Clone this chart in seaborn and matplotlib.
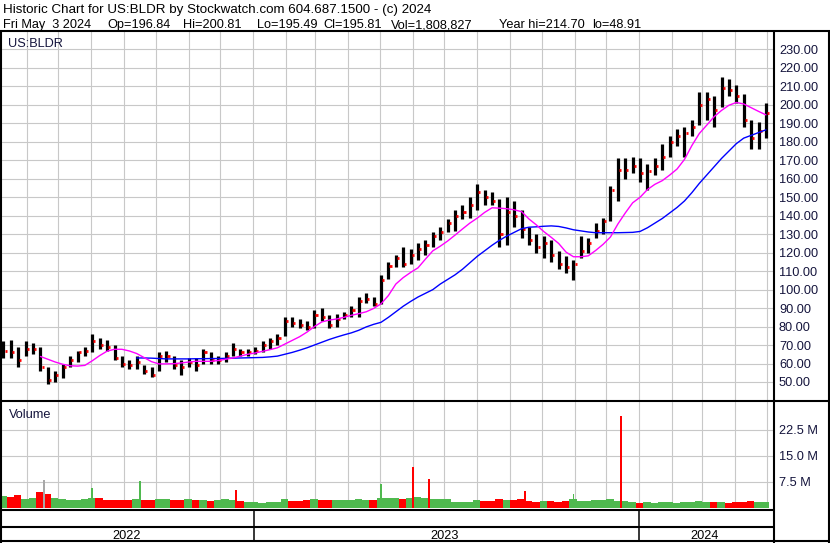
import pandas as pd
import matplotlib
matplotlib.use("Agg")
import matplotlib.pyplot as plt
import matplotlib.dates as mdates
from matplotlib.lines import Line2D
import seaborn as sns

sns.set_style("white")
plt.rcParams["font.family"] = ["Liberation Sans", "DejaVu Sans"]

# weekly bars, week ending Fridays 2022-05-13 .. 2024-05-03
week_end = pd.date_range("2022-05-13", periods=104, freq="7D")

high = [72, 73, 69, 72, 71, 69, 58, 56, 60, 64,
        67, 69, 76, 74, 73, 70, 64, 62, 64, 59,
        58, 66, 67, 64, 62, 63, 63, 68, 66, 64,
        66, 71, 68, 68, 69, 72, 74, 76, 85, 85,
        84, 83, 89, 90, 86, 87, 88, 91, 96, 98,
        96, 108, 115, 119, 123, 122, 125, 127, 131, 134,
        138, 143, 146, 150, 157, 154, 153, 149, 150, 148,
        143, 134, 130, 129, 127, 121, 118, 116, 129, 128,
        136, 139, 156, 171, 171, 172, 171, 168, 171, 179,
        183, 187, 188, 192, 207, 207, 205, 215, 214, 211,
        206, 192, 191, 200.81]

low = [63, 63, 58, 64, 65, 56, 49, 50, 52, 58,
       61, 64, 66, 68, 67, 62, 58, 57, 57, 54.5,
       52.5, 56, 61, 57, 54, 58, 56, 60, 60, 60,
       61, 64, 64, 64, 65, 66, 68, 70, 75, 80,
       79, 78, 79, 83, 79, 80, 84, 85, 85, 93,
       91, 92, 106, 112, 112, 114, 116, 119, 123, 127,
       131, 132, 138, 139, 143, 146, 146, 123, 124, 134,
       128, 124, 120, 117, 115, 111, 109, 105, 117, 120,
       128, 130, 137, 148, 160, 163, 158, 154, 162, 165,
       172, 178, 172, 183, 189, 192, 188, 199, 205, 201,
       188, 176, 176, 182]

close = [67, 66, 62, 68, 68, 58, 51, 54, 58, 62,
         66, 67, 72, 70, 69, 63, 60, 59, 61, 56,
         54, 64, 64, 59, 58, 61, 59, 66, 62, 62,
         64, 68, 66, 66, 67, 70, 72, 74, 83, 82,
         81, 80, 86, 85, 81, 84, 86, 89, 94, 95,
         92, 105, 113, 117, 114, 119, 122, 124, 129, 131,
         136, 140, 142, 146, 153, 150, 148, 130, 142, 140,
         133, 127, 123, 125, 119, 114, 112, 114, 121, 125,
         132, 137, 154, 165, 165, 167, 163, 164, 167, 172,
         180, 183, 185, 188, 200, 203, 197, 209, 208, 205,
         192, 182, 186, 195.81]

nan = float("nan")
ma_short = [nan, nan, nan, nan, nan, 63.8, 62.3, 60.8, 59.6, 58.8,
            58.6, 59.0, 61.5, 64.3, 66.7, 67.7, 67.7, 66.8, 65.4, 63.2,
            61.0, 59.8, 59.8, 59.9, 60.3, 60.8, 61.2, 61.2, 61.2, 61.6,
            62.3, 63.0, 64.0, 65.0, 65.7, 66.6, 67.5, 68.5, 70.5, 72.5,
            74.5, 77.0, 80.0, 82.5, 83.5, 84.1, 85.0, 86.1, 87.0, 88.0,
            89.8, 92.3, 96.8, 103.0, 106.5, 109.3, 111.8, 116.5, 121.0, 123.5,
            126.3, 129.5, 132.8, 136.0, 138.7, 141.8, 144.3, 144.1, 143.8, 143.2,
            142.2, 138.2, 135.0, 131.4, 128.3, 125.0, 120.3, 117.8, 117.8, 118.3,
            121.2, 124.5, 128.5, 135.5, 141.5, 147.0, 150.0, 154.2, 157.0, 159.0,
            162.0, 165.3, 170.5, 178.0, 184.5, 189.0, 193.6, 197.0, 199.8, 201.3,
            200.5, 198.5, 196.5, 194.6]

ma_long = [nan, nan, nan, nan, nan, nan, nan, nan, nan, nan,
           nan, nan, nan, nan, nan, nan, nan, nan, 63.0, 63.0,
           62.9, 62.7, 62.5, 62.5, 62.5, 62.5, 62.6, 62.6, 62.7, 62.7,
           62.8, 62.9, 63.0, 63.1, 63.2, 63.3, 63.6, 64.0, 65.0, 66.0,
           67.2, 68.5, 70.0, 71.5, 73.0, 74.3, 75.5, 76.6, 78.0, 79.8,
           81.2, 82.3, 85.0, 88.0, 91.0, 93.6, 96.0, 98.0, 100.0, 103.0,
           105.5, 108.0, 111.0, 114.5, 118.0, 121.0, 124.0, 126.7, 129.0, 131.0,
           133.0, 133.8, 134.0, 134.3, 134.5, 134.2, 133.4, 132.4, 131.8, 131.2,
           130.8, 130.8, 130.8, 130.8, 130.9, 131.0, 131.5, 133.5, 136.0, 138.5,
           141.5, 144.5, 148.0, 152.5, 157.5, 162.0, 166.5, 171.0, 175.0, 179.0,
           182.0, 183.5, 185.0, 186.5]

# typical daily volume per week (millions)
volume = [3.5, 3.3, 3.8, 2.6, 2.8, 4.5, 4.0, 3.0, 2.6, 2.3,
          2.4, 2.6, 3.0, 2.8, 2.3, 2.4, 2.2, 2.4, 2.6, 2.4,
          2.2, 2.5, 2.6, 2.3, 2.2, 2.6, 2.4, 2.2, 2.0, 2.3,
          2.5, 2.3, 1.9, 1.6, 1.7, 1.5, 1.6, 1.8, 2.5, 2.0,
          2.0, 2.2, 2.6, 2.2, 2.3, 2.4, 2.2, 2.3, 2.6, 2.3,
          2.4, 2.8, 2.9, 2.8, 2.6, 3.0, 3.2, 3.0, 2.7, 2.6,
          2.6, 1.8, 1.7, 1.7, 2.2, 2.0, 2.0, 2.6, 2.4, 2.3,
          2.5, 2.0, 1.8, 2.0, 1.9, 1.8, 2.0, 2.6, 2.0, 2.0,
          2.2, 2.4, 2.6, 2.0, 1.9, 1.6, 1.5, 1.8, 1.5, 1.6,
          1.7, 1.5, 1.6, 1.8, 2.0, 1.7, 1.8, 1.6, 1.5, 1.6,
          1.7, 1.9, 1.6, 1.8]

# single heavy-volume days
spike_days = ["2022-06-17", "2022-08-02", "2022-09-16", "2022-12-16", "2023-05-02",
              "2023-06-01", "2023-06-16", "2023-09-15", "2023-10-31", "2023-12-15"]
spike_volume = [8.0, 5.7, 7.7, 5.2, 6.8, 11.8, 8.3, 5.0, 4.0, 26.6]
spike_kind = ["flat", "up", "up", "down", "up", "down", "down", "down", "up", "down"]

price_ticks = list(range(50, 231, 10))
volume_ticks = [7.5, 15.0, 22.5]
volume_labels = ["7.5 M", "15.0 M", "22.5 M"]
year_labels = ["2022", "2023", "2024"]

header1 = "Historic Chart for US:BLDR by Stockwatch.com 604.687.1500 - (c) 2024"
header2 = [("Fri May  3 2024", 3), ("Op=196.84", 107), ("Hi=200.81", 183),
           ("Lo=195.49", 257), ("Cl=195.81", 323), ("Vol=1,808,827", 391),
           ("Year hi=214.70", 499), ("lo=48.91", 592)]

GREEN, RED, GRAY = "#4fb94f", "#ff0000", "#a8a8a8"
GRID = "#c8c8c8"
TXT = "#14143c"
FS = 9.2
FS_HEAD = 9.65

W, H = 830, 543
fig = plt.figure(figsize=(W / 100, H / 100), dpi=100)


def fx(px):
    return px / W


def fy(py):
    return 1 - py / H


ax = fig.add_axes([fx(2), fy(400), fx(773) - fx(2), fy(31) - fy(400)])
axv = fig.add_axes([fx(2), fy(508), fx(773) - fx(2), fy(402) - fy(508)])

x_week = mdates.date2num(week_end.to_pydatetime()) - 3
jan23 = mdates.date2num(pd.Timestamp("2023-01-01").to_pydatetime())
xlim = (jan23 - 237.4, jan23 + 491.7)
months = mdates.date2num(pd.date_range("2022-06-01", "2024-05-01", freq="MS").to_pydatetime())

# price panel
ax.vlines(x_week, low, high, color="black", lw=2.3, zorder=3)
ax.hlines(close, x_week + 1.0, x_week + 3.0, color=RED, lw=2.0, zorder=4)

ma = pd.DataFrame({"x": x_week, "short": ma_short, "long": ma_long})
sns.lineplot(data=ma, x="x", y="long", ax=ax, color="#0000ff", lw=1.0, zorder=5)
sns.lineplot(data=ma, x="x", y="short", ax=ax, color="#ff00ff", lw=1.0, zorder=5)

ax.set_xlim(xlim)
ax.set_ylim(40.25, 240.0)
ax.set_xticks(months)
ax.set_yticks(price_ticks)
ax.set_yticklabels([f"{v:.2f}" for v in price_ticks])
ax.set_axisbelow(True)
ax.grid(True, color=GRID, lw=0.8)
ax.set_xlabel("")
ax.set_ylabel("")
fig.text(fx(8), fy(46.5), "US:BLDR", fontsize=FS, color=TXT, va="baseline")

# volume panel
colors = [GREEN] + [GREEN if close[i] >= close[i - 1] else RED for i in range(1, len(close))]
axv.bar(x_week - 0.5, volume, width=7.0, color=colors, lw=0, zorder=2)
kind_col = {"up": GREEN, "down": RED, "flat": GRAY}
spike_x = mdates.date2num(pd.to_datetime(spike_days).to_pydatetime())
axv.bar(spike_x, spike_volume, width=1.8, color=[kind_col[k] for k in spike_kind], lw=0, zorder=3)
axv.set_xlim(xlim)
axv.set_ylim(0, 30.5)
axv.set_xticks(months)
axv.set_yticks(volume_ticks)
axv.set_yticklabels(volume_labels)
axv.set_axisbelow(True)
axv.grid(True, color=GRID, lw=0.8)
fig.text(fx(9), fy(418), "Volume", fontsize=FS, color=TXT, va="baseline")

for a in (ax, axv):
    for s in a.spines.values():
        s.set_visible(False)
    a.yaxis.tick_right()
    a.tick_params(axis="y", length=0, pad=4.3, labelsize=FS, labelcolor=TXT)
    a.tick_params(axis="x", length=0, labelbottom=False)

# header
fig.text(fx(3), fy(13.3), header1, fontsize=FS_HEAD, color="black", va="baseline")
for s, px in header2:
    fig.text(fx(px), fy(28), s, fontsize=FS, color="black", va="baseline")


# frame
def line(x0, y0, x1, y1, lw=1.5):
    fig.add_artist(Line2D([fx(x0), fx(x1)], [fy(y0), fy(y1)], transform=fig.transFigure,
                          color="black", lw=lw, solid_capstyle="butt"))


line(0, 30.5, 830, 30.5)
line(1, 30, 1, 542.5)
line(774.3, 30, 774.3, 542.5)
line(828.7, 30, 828.7, 542.5)
line(0, 400.7, 830, 400.7)
line(0, 509.7, 774.3, 509.7)
line(0, 527.3, 774.3, 527.3)
line(0, 541.3, 830, 541.3)
line(253.5, 509.7, 253.5, 541.3, lw=1.1)
line(639.3, 509.7, 639.3, 541.3, lw=1.1)

for lab, cx in zip(year_labels, [127, 445, 705]):
    fig.text(fx(cx), fy(539), lab, fontsize=FS, color="black", ha="center", va="baseline")

fig.savefig("out.png", dpi=100, facecolor="white")
